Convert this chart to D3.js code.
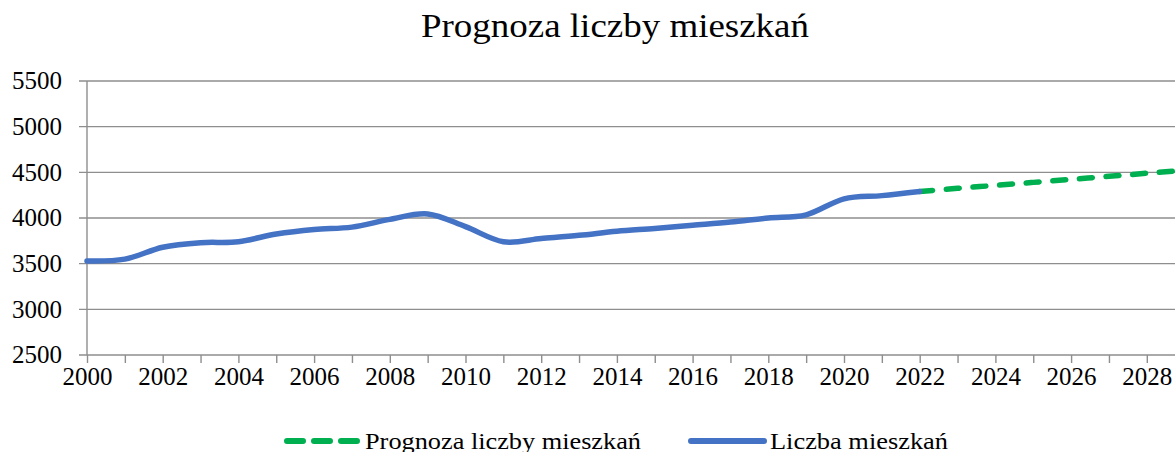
<!DOCTYPE html>
<html>
<head>
<meta charset="utf-8">
<script src="https://cdn.jsdelivr.net/npm/d3@7"></script>
<style>
	body { margin: 0; background: #fff; }
	svg { display: block; overflow: hidden; }
	svg text { font-family: 'Liberation Serif', 'DejaVu Serif', serif; }
</style>
</head>
<body>
<div id="chart"></div>
<script>
// data
const years = d3.range(2000, 2023)
const residents = [3530, 3550, 3680, 3730, 3740, 3825, 3875, 3900, 3985, 4045, 3905, 3740, 3775,
	3810, 3855, 3885, 3920, 3955, 4000, 4035, 4210, 4245, 4290]
const forecastYears = d3.range(2022, 2030)
const forecast = [4290, 4325, 4357, 4390, 4423, 4456, 4490, 4523]
const yTicks = [2500, 3000, 3500, 4000, 4500, 5000, 5500]
const xLabelYears = d3.range(2000, 2031, 2)

const title = 'Prognoza liczby mieszkań'
const seriesNames = ['Prognoza liczby mieszkań', 'Liczba mieszkań']

// size and layout
const width = 1175, height = 452
const margin = {top: 81, left: 87, bottom: 97}
const yearStep = 37.85
const FONT = "'Liberation Serif', 'DejaVu Serif', serif"
const BLUE = '#4472C4', GREEN = '#00B050', GRID = '#8e8e8e'

const svg = d3.select('#chart').append('svg')
	.attr('width', width)
	.attr('height', height)
	.attr('font-family', FONT)

// chart continues past the right edge of the picture, so the range runs off the svg
const x = d3.scaleLinear().domain([2000, 2030]).range([margin.left, margin.left + 30 * yearStep])
const y = d3.scaleLinear().domain([2500, 5500]).range([height - margin.bottom, margin.top])

// horizontal grid
svg.append('g')
	.selectAll('line')
	.data(yTicks)
	.enter()
	.append('line')
	.attr('x1', margin.left - 8)
	.attr('x2', x(2030))
	.attr('y1', d => y(d))
	.attr('y2', d => y(d))
	.style('stroke', GRID)
	.style('stroke-width', 1.4)

// y axis line
svg.append('line')
	.attr('x1', margin.left).attr('x2', margin.left)
	.attr('y1', y(5500)).attr('y2', y(2500))
	.style('stroke', GRID).style('stroke-width', 1.4)

// x axis: ticks every year, labels every other year
const xAxis = d3.axisBottom(x)
	.tickValues(d3.range(2000, 2031))
	.tickSize(8)
	.tickPadding(4)
	.tickFormat(d => (xLabelYears.includes(d) ? d : ''))

const gx = svg.append('g')
	.attr('transform', 'translate(0,' + y(2500) + ')')
	.call(xAxis)
	.attr('font-family', FONT)
	.attr('font-size', 25)
gx.select('.domain').remove()
gx.selectAll('.tick line').style('stroke', GRID).style('stroke-width', 1.4)
gx.selectAll('.tick text')
	.attr('font-family', FONT)
	.style('fill', '#000')

// y labels
svg.append('g')
	.selectAll('text')
	.data(yTicks)
	.enter()
	.append('text')
	.attr('x', 62)
	.attr('y', d => y(d))
	.attr('dy', '0.33em')
	.attr('text-anchor', 'end')
	.attr('font-family', FONT)
	.style('font-size', '25px')
	.style('fill', '#000')
	.text(d => d)

// lines, Excel style smoothing
const line = d3.line()
	.x(d => x(d[0]))
	.y(d => y(d[1]))
	.curve(d3.curveCatmullRom.alpha(0))

svg.append('path')
	.datum(d3.zip(forecastYears, forecast))
	.attr('d', line)
	.style('fill', 'none')
	.style('stroke', GREEN)
	.style('stroke-width', 5.5)
	.style('stroke-linecap', 'round')
	.style('stroke-dasharray', '13,13.7')

svg.append('path')
	.datum(d3.zip(years, residents))
	.attr('d', line)
	.style('fill', 'none')
	.style('stroke', BLUE)
	.style('stroke-width', 5.5)
	.style('stroke-linecap', 'round')

// title
svg.append('text')
	.attr('x', 421)
	.attr('y', 37)
	.attr('textLength', 388)
	.attr('lengthAdjust', 'spacingAndGlyphs')
	.style('font-size', '34px')
	.style('fill', '#000')
	.text(title)

// legend
const legendY = 441
svg.append('line')
	.attr('x1', 287).attr('x2', 357)
	.attr('y1', legendY).attr('y2', legendY)
	.style('stroke', GREEN)
	.style('stroke-width', 6)
	.style('stroke-linecap', 'round')
	.style('stroke-dasharray', '16,11')
svg.append('text')
	.attr('x', 365)
	.attr('y', 449)
	.attr('textLength', 276)
	.attr('lengthAdjust', 'spacingAndGlyphs')
	.style('font-size', '24px')
	.text(seriesNames[0])

svg.append('line')
	.attr('x1', 691).attr('x2', 764)
	.attr('y1', legendY).attr('y2', legendY)
	.style('stroke', BLUE)
	.style('stroke-width', 6)
	.style('stroke-linecap', 'round')
svg.append('text')
	.attr('x', 770)
	.attr('y', 449)
	.attr('textLength', 178)
	.attr('lengthAdjust', 'spacingAndGlyphs')
	.style('font-size', '24px')
	.text(seriesNames[1])
</script>
</body>
</html>
